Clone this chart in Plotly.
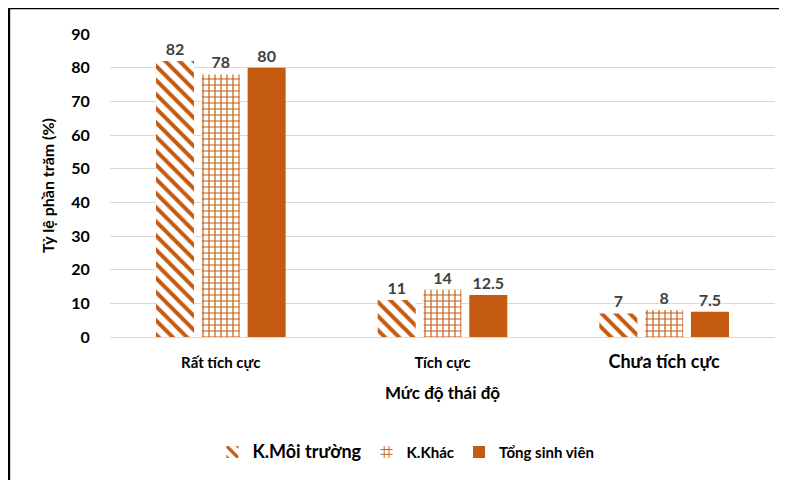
import plotly.graph_objects as go

categories = ["Rất tích cực", "Tích cực", "Chưa tích cực"]
tick_labels = ["Rất tích cực", "Tích cực", "<span style='font-size:18px'>Chưa tích cực</span>"]
moi_truong = [82, 11, 7]
khac = [78, 14, 8]
tong = [80, 12.5, 7.5]

ORANGE = "#C55A11"
FONT = "Lato"

fig = go.Figure()

fig.add_trace(go.Bar(x=categories, y=moi_truong,
                     name="<span style='font-size:18px'>K.Môi trường</span>",
                     marker=dict(color="white", line=dict(width=0),
                                 pattern=dict(shape="\\", fgcolor=ORANGE, bgcolor="white",
                                              size=10, solidity=0.4, fillmode="replace")),
                     text=moi_truong, textposition="outside", cliponaxis=False))
fig.add_trace(go.Bar(x=categories, y=khac,
                     name="K.Khác",
                     marker=dict(color="white", line=dict(width=0),
                                 pattern=dict(shape="+", fgcolor=ORANGE, bgcolor="white",
                                              size=6, solidity=0.35, fillmode="replace")),
                     text=khac, textposition="outside", cliponaxis=False))
fig.add_trace(go.Bar(x=categories, y=tong,
                     name="Tổng sinh viên",
                     marker=dict(color=ORANGE, line=dict(width=0)),
                     text=tong, textposition="outside", cliponaxis=False))

fig.update_traces(textfont=dict(family=FONT, size=16, color="#404040", weight="bold"))

# frame lines (left and top) like the original picture
fig.add_shape(type="line", xref="paper", yref="paper", x0=-0.152, x1=-0.152, y0=1.086, y1=-0.6,
              line=dict(color="black", width=2.5))
fig.add_shape(type="line", xref="paper", yref="paper", x0=-0.152, x1=1.05, y0=1.086, y1=1.086,
              line=dict(color="black", width=2.5))

fig.update_layout(
    width=787, height=480,
    margin=dict(l=102, r=20, t=26, b=151),
    paper_bgcolor="white", plot_bgcolor="white",
    font=dict(family=FONT, color="black"),
    barmode="group", bargap=0.38, bargroupgap=0.17,
    showlegend=True,
    legend=dict(orientation="h", x=0.445, xanchor="center", y=-0.38, yanchor="middle",
                font=dict(family=FONT, size=15, color="black", weight="bold"),
                traceorder="normal"),
    xaxis=dict(tickvals=categories, ticktext=tick_labels,
               tickfont=dict(family=FONT, size=15, color="black", weight="bold"),
               ticks="outside", tickcolor="white", ticklen=12,
               showline=True, linecolor="#d9d9d9", linewidth=1,
               title=dict(text="Mức độ thái độ", standoff=16,
                          font=dict(family=FONT, size=17, color="black", weight="bold"))),
    yaxis=dict(range=[0, 90], dtick=10, showgrid=True, gridcolor="#d9d9d9", gridwidth=1,
               zeroline=False, ticks="outside", tickcolor="white", ticklen=16,
               tickfont=dict(family=FONT, size=16, color="black", weight="bold"),
               title=dict(text="Tỷ lệ phần trăm (%)", standoff=12,
                          font=dict(family=FONT, size=16, color="black", weight="bold"))),
)

fig.write_html("out.html")
